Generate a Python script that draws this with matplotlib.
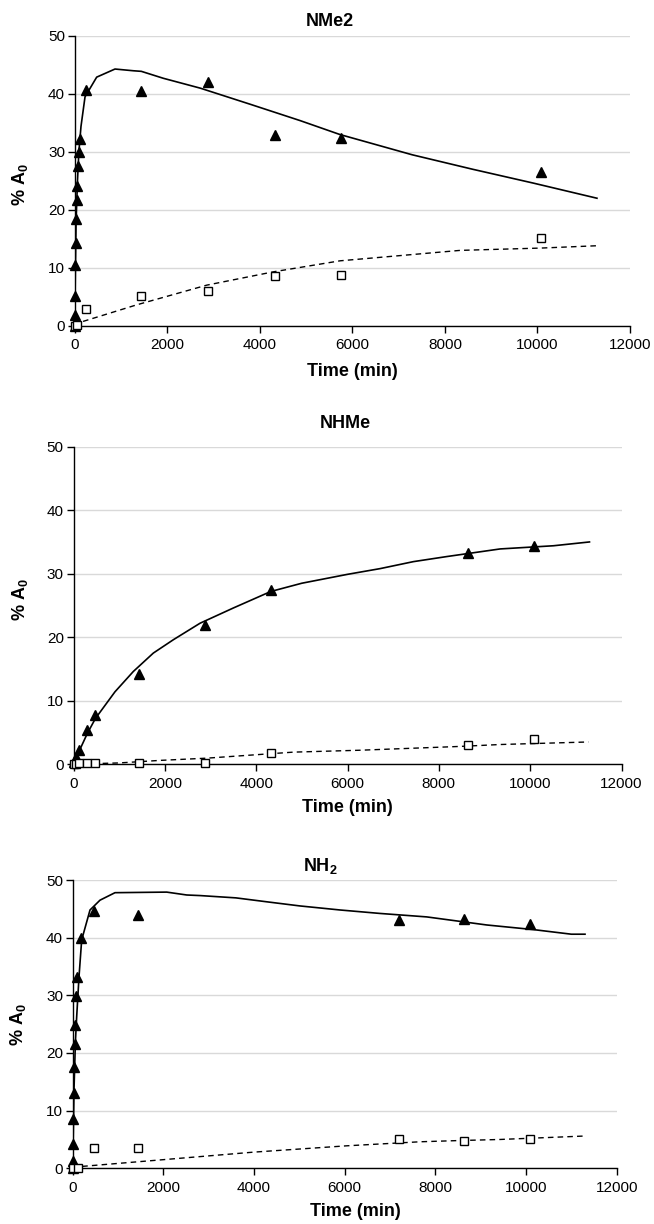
import matplotlib
matplotlib.use("Agg")
import matplotlib.pyplot as plt

plt.rcParams['font.family'] = ['Liberation Sans', 'DejaVu Sans']
plt.rcParams['mathtext.fontset'] = 'custom'
plt.rcParams['mathtext.rm'] = 'Liberation Sans'
plt.rcParams['mathtext.bf'] = 'Liberation Sans:bold'

# ---- NMe2 ----
nme2_tri_t = [0, 5, 10, 15, 20, 30, 45, 60, 75, 90, 120, 240, 1440, 2880, 4320, 5760, 10080]
nme2_tri_y = [0, 1.8, 5.2, 10.5, 14.3, 18.4, 21.7, 24.1, 27.5, 29.9, 32.2, 40.6, 40.5, 42.0, 32.9, 32.4, 26.5]
nme2_sq_t = [0, 60, 240, 1440, 2880, 4320, 5760, 10080]
nme2_sq_y = [0, 0.1, 2.8, 5.1, 6.0, 8.6, 8.8, 15.1]
nme2_fit_t = [0, 15, 30, 60, 90, 136, 223, 475, 871, 1268, 1440, 1916, 2713, 3800, 4871, 5730, 7293, 8600, 9917, 11286]
nme2_fit_y = [0, 10, 18, 25, 30, 34.4, 39.5, 42.9, 44.3, 44.0, 43.9, 42.7, 41.0, 38.2, 35.4, 33.0, 29.5, 27.0, 24.6, 22.0]
nme2_dash_t = [0, 43, 1340, 2854, 4295, 5736, 8330, 10080, 11286]
nme2_dash_y = [0, 0.4, 3.6, 7.0, 9.3, 11.2, 13.0, 13.4, 13.8]

# ---- NHMe ----
nhme_tri_t = [0, 60, 120, 300, 480, 1440, 2880, 4320, 8640, 10080]
nhme_tri_y = [0.3, 1.2, 2.2, 5.4, 7.7, 14.2, 21.9, 27.4, 33.3, 34.4]
nhme_sq_t = [0, 60, 120, 300, 480, 1440, 2880, 4320, 8640, 10080]
nhme_sq_y = [0, 0.1, 0.2, 0.2, 0.2, 0.2, 0.2, 1.7, 3.0, 3.9]
nhme_fit_t = [0, 120, 300, 480, 908, 1310, 1748, 2186, 2771, 3500, 4320, 5000, 6000, 6714, 7443, 8175, 9343, 10510, 11299]
nhme_fit_y = [0, 2.0, 4.8, 7.2, 11.4, 14.6, 17.5, 19.6, 22.2, 24.6, 27.2, 28.5, 29.9, 30.8, 31.9, 32.7, 33.9, 34.4, 35.0]
nhme_dash_t = [0, 1000, 1895, 2918, 4815, 6276, 7371, 8467, 9343, 11277]
nhme_dash_y = [0, 0.2, 0.6, 0.95, 1.9, 2.2, 2.5, 2.8, 3.1, 3.5]

# ---- NH2 ----
nh2_tri_t = [0, 5, 10, 15, 20, 30, 45, 60, 75, 90, 180, 480, 1440, 7200, 8640, 10080]
nh2_tri_y = [0, 1.2, 4.3, 8.5, 13.0, 17.6, 21.6, 24.9, 29.8, 33.2, 39.9, 44.6, 44.0, 43.1, 43.2, 42.3]
nh2_sq_t = [0, 120, 480, 1440, 7200, 8640, 10080]
nh2_sq_y = [0, 0.1, 3.6, 3.6, 5.0, 4.8, 5.0]
nh2_fit_t = [0, 30, 60, 88, 139, 198, 382, 602, 933, 2074, 2515, 2808, 3600, 4300, 5014, 5897, 6779, 7809, 9133, 10161, 11000, 11301]
nh2_fit_y = [0, 14, 22, 26.3, 33.2, 39.6, 44.8, 46.5, 47.8, 47.9, 47.4, 47.3, 46.9, 46.2, 45.5, 44.8, 44.2, 43.6, 42.2, 41.4, 40.6, 40.6]
nh2_dash_t = [0, 161, 1926, 3985, 6045, 7662, 8471, 9426, 11301]
nh2_dash_y = [0, 0.3, 1.45, 2.8, 3.9, 4.6, 4.8, 5.0, 5.6]

titles = ['NMe2', 'NHMe', r'NH$_\mathbf{2}$']

W, H = 654, 1224
fig = plt.figure(figsize=(W / 100, H / 100), dpi=100)

# axes boxes in pixels: left, right, top, bottom
boxes = [(74.7, 630, 36, 325.7), (73.5, 621.5, 446.7, 764.2), (72.7, 616.7, 880, 1168.3)]
title_pos = [(330, 22), (345, 423), (320, 866)]
xlab_pos = [(352, 372), (347, 808), (355, 1212)]
ylab_pos = [(20, 185), (20, 600), (18, 1025)]

data = [
    (nme2_tri_t, nme2_tri_y, nme2_sq_t, nme2_sq_y, nme2_fit_t, nme2_fit_y, nme2_dash_t, nme2_dash_y),
    (nhme_tri_t, nhme_tri_y, nhme_sq_t, nhme_sq_y, nhme_fit_t, nhme_fit_y, nhme_dash_t, nhme_dash_y),
    (nh2_tri_t, nh2_tri_y, nh2_sq_t, nh2_sq_y, nh2_fit_t, nh2_fit_y, nh2_dash_t, nh2_dash_y),
]

for i in range(3):
    l, r, t, b = boxes[i]
    ax = fig.add_axes([l / W, 1 - b / H, (r - l) / W, (b - t) / H])
    tt, ty, st, sy, ft, fy, dt, dy = data[i]

    ax.plot(ft, fy, color='black', lw=1.2, zorder=3)
    ax.plot(dt, dy, color='black', lw=1.0, ls=(0, (4, 3)), zorder=3)
    ax.plot(tt, ty, ls='none', marker='^', ms=7, color='black', clip_on=False, zorder=4)
    ax.plot(st, sy, ls='none', marker='s', ms=6, mfc='white', mec='black', mew=1.0,
            clip_on=False, zorder=5)

    ax.set_xlim(0, 12000)
    ax.set_ylim(0, 50)
    ax.set_xticks(range(0, 12001, 2000))
    ax.set_yticks(range(0, 51, 10))
    ax.yaxis.grid(True, color='#d9d9d9', lw=1.0)
    ax.set_axisbelow(True)
    for s in ['top', 'right']:
        ax.spines[s].set_visible(False)
    for s in ['left', 'bottom']:
        ax.spines[s].set_linewidth(1.0)
    ax.tick_params(direction='out', length=5, width=1, labelsize=11, pad=4, colors='black')
    ax.tick_params(axis='y', pad=2)

    fig.text(title_pos[i][0] / W, 1 - title_pos[i][1] / H, titles[i], ha='center', va='center',
             fontsize=13, fontweight='bold')
    fig.text(xlab_pos[i][0] / W, 1 - xlab_pos[i][1] / H, 'Time (min)', ha='center', va='center',
             fontsize=13, fontweight='bold')
    fig.text(ylab_pos[i][0] / W, 1 - ylab_pos[i][1] / H, r'% $\mathbf{A_0}$', ha='center', va='center',
             fontsize=13, fontweight='bold', rotation=90)

fig.savefig('out.png', dpi=100)
